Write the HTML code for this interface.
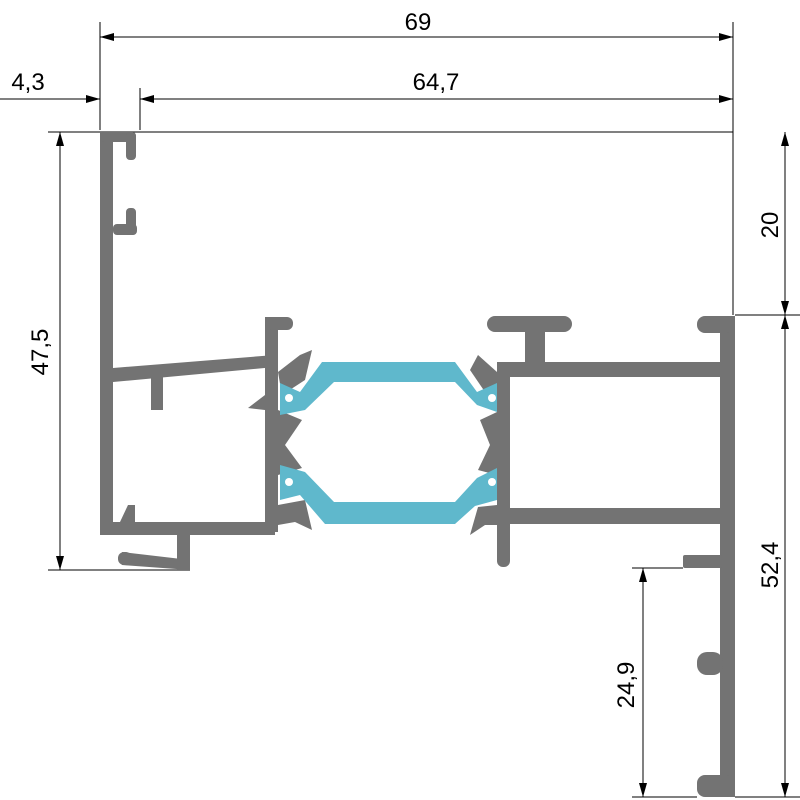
<!DOCTYPE html>
<html><head><style>body{margin:0;background:#fff}svg{display:block}</style></head><body>
<svg width="800" height="800" viewBox="0 0 800 800" xmlns="http://www.w3.org/2000/svg">
<defs>
<marker id="a" markerWidth="14" markerHeight="8" refX="14" refY="4" orient="auto" markerUnits="userSpaceOnUse"><path d="M0,0 L14,4 L0,8 z" fill="#000"/></marker>
</defs>
<g stroke="#000" stroke-width="1" fill="none">
<line x1="100" y1="22" x2="100" y2="130"/>
<line x1="733" y1="22" x2="733" y2="315"/>
<line x1="140" y1="88" x2="140" y2="130"/>
<line x1="100" y1="37" x2="733" y2="37" marker-start="url(#a)" marker-end="url(#a)" style="marker-start:none"/>
<line x1="300" y1="37" x2="100" y2="37" marker-end="url(#a)"/>
<line x1="140" y1="99" x2="733" y2="99" marker-end="url(#a)"/>
<line x1="300" y1="99" x2="140" y2="99" marker-end="url(#a)"/>
<line x1="0" y1="99" x2="100" y2="99" marker-end="url(#a)"/>
<line x1="48" y1="132" x2="733" y2="132"/>
<line x1="48" y1="570" x2="190" y2="570"/>
<line x1="60" y1="350" x2="60" y2="132" marker-end="url(#a)"/>
<line x1="60" y1="350" x2="60" y2="570" marker-end="url(#a)"/>
<line x1="785" y1="220" x2="785" y2="132" marker-end="url(#a)"/>
<line x1="785" y1="220" x2="785" y2="315" marker-end="url(#a)"/>
<line x1="735" y1="315" x2="800" y2="315"/>
<line x1="785" y1="550" x2="785" y2="315" marker-end="url(#a)"/>
<line x1="785" y1="550" x2="785" y2="797" marker-end="url(#a)"/>
<line x1="735" y1="797" x2="800" y2="797"/>
<line x1="632" y1="568" x2="683" y2="568"/>
<line x1="632" y1="797" x2="697" y2="797"/>
<line x1="643" y1="680" x2="643" y2="568" marker-end="url(#a)"/>
<line x1="643" y1="680" x2="643" y2="797" marker-end="url(#a)"/>
</g>
<g font-family="Liberation Sans, sans-serif" font-size="24" fill="#000">
<text x="418" y="30" text-anchor="middle">69</text>
<text x="436" y="90" text-anchor="middle">64,7</text>
<text x="28" y="90" text-anchor="middle">4,3</text>
<text transform="translate(48,352) rotate(-90)" text-anchor="middle">47,5</text>
<text transform="translate(778,225) rotate(-90)" text-anchor="middle">20</text>
<text transform="translate(778,565) rotate(-90)" text-anchor="middle">52,4</text>
<text transform="translate(634,685) rotate(-90)" text-anchor="middle">24,9</text>
</g>
<g fill="#737373" stroke="none">
<!-- left profile -->
<rect x="100" y="132" width="13" height="403"/>
<rect x="100" y="132" width="36" height="10" rx="4"/>
<rect x="126" y="132" width="10" height="28" rx="4"/>
<rect x="113" y="224" width="24" height="11" rx="4"/>
<rect x="126" y="208" width="10" height="27" rx="4"/>
<polygon points="113,368 275,355 275,367 113,382"/>
<rect x="151" y="375" width="12" height="35"/>
<rect x="100" y="522" width="175" height="13"/>
<polygon points="120,522 128,505 135,505 135,522"/>
<polygon points="122,552 190,560 190,570 122,565"/>
<rect x="118" y="552" width="14" height="13" rx="6"/>
<rect x="177" y="535" width="13" height="35"/>
<!-- middle left vertical -->
<rect x="265" y="317" width="13" height="215"/>
<rect x="265" y="317" width="28" height="13" rx="6"/>
<polygon points="278,372 300,355 312,350 305,380 282,395"/>
<polygon points="248,408 265,395 265,410"/>
<polygon points="278,410 302,420 285,445 302,468 278,475"/>
<polygon points="278,505 305,500 312,530 295,522 278,525"/>
<!-- right middle -->
<rect x="497" y="362" width="13" height="205" rx="6"/>
<rect x="487" y="316" width="85" height="16" rx="8"/>
<rect x="525" y="325" width="20" height="40"/>
<rect x="497" y="362" width="238" height="15"/>
<rect x="497" y="508" width="238" height="16"/>
<polygon points="497,372 478,355 470,370 485,392 497,390"/>
<polygon points="497,412 480,420 490,445 478,470 497,475"/>
<polygon points="497,505 478,507 470,535 485,525 497,525"/>
<!-- right vertical -->
<rect x="720" y="316" width="15" height="481"/>
<rect x="697" y="316" width="38" height="17" rx="8"/>
<rect x="683" y="555" width="40" height="13" rx="2"/>
<rect x="697" y="652" width="26" height="23" rx="10"/>
<rect x="697" y="775" width="38" height="22" rx="8"/>
</g>
<g fill="#5fb8cc">
<path d="M280,383 L300,392 L322,362 L455,362 L477,392 L497,383 L497,412 L477,405 L455,382 L334,382 L305,410 L280,415 z"/>
<path d="M280,465 L305,472 L334,502 L455,502 L477,478 L497,468 L497,500 L475,506 L455,524 L325,524 L300,495 L280,500 z"/>
</g>
<g fill="#fff">
<circle cx="289" cy="398" r="4"/><circle cx="289" cy="482" r="4"/>
<circle cx="492" cy="398" r="4"/><circle cx="492" cy="482" r="4"/>
</g>
</svg>
</body></html>
